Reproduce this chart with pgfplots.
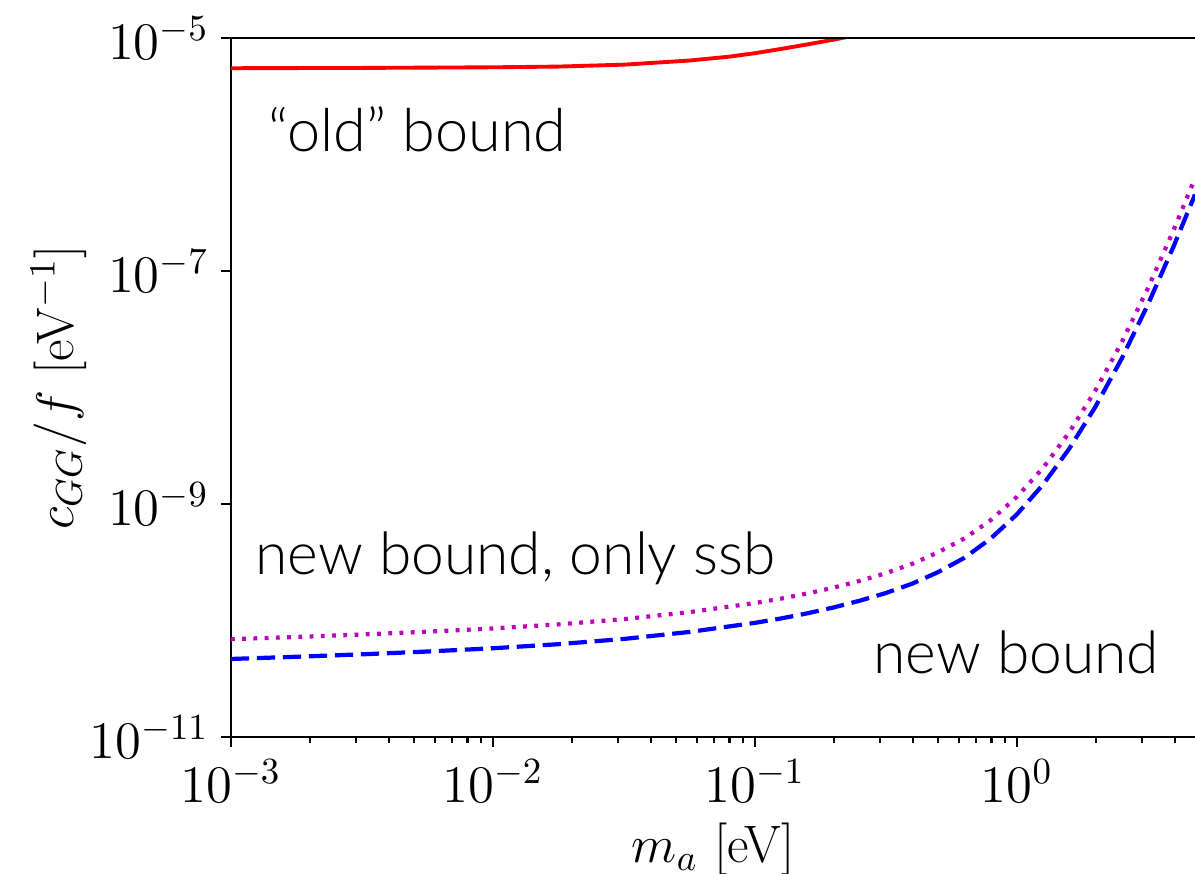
\RequirePackage{fix-cm}
\documentclass[border=0pt]{standalone}
\usepackage{fontspec}
\newfontfamily\helv{Lato}[UprightFont={* Light}]
\usepackage{pgfplots}
\pgfplotsset{compat=1.18}
\definecolor{mplmag}{rgb}{0.75,0,0.75}

\begin{document}
\begin{tikzpicture}
\begin{axis}[
  scale only axis, width=274.3pt, height=198.9pt,
  xmode=log, ymode=log,
  xmin=1e-3, xmax=4.786, ymin=1e-11, ymax=1e-5,
  axis lines*=left, axis line style={-, line width=0.7pt},
  tick align=outside, tick style={black, line width=0.6pt},
  major tick length=2.8pt, minor tick length=1.6pt,
  xtick={1e-3,1e-2,1e-1,1},
  minor xtick={2e-3,3e-3,4e-3,5e-3,6e-3,7e-3,8e-3,9e-3,
               2e-2,3e-2,4e-2,5e-2,6e-2,7e-2,8e-2,9e-2,
               0.2,0.3,0.4,0.5,0.6,0.7,0.8,0.9,2,3,4},
  ytick={1e-11,1e-9,1e-7,1e-5},
  tick label style={font=\fontsize{15}{18}\selectfont},
  label style={font=\fontsize{15}{18}\selectfont},
  xlabel={$m_a$ [eV]}, ylabel={$c_{GG}/f$ [eV$^{-1}$]},
  xlabel style={at={(rel axis cs:0.5,-0.18)}, anchor=base},
  ylabel style={at={(rel axis cs:-0.163,0.5)}, anchor=base},
  clip mode=individual,
]
% "old" bound
\addplot[red, line width=1.1pt] coordinates {
  (0.001,5.5e-6) (0.003162,5.53e-6) (0.01,5.6e-6) (0.01778,5.68e-6)
  (0.03162,5.9e-6) (0.05623,6.4e-6) (0.07943,6.9e-6) (0.1,7.4e-6)
  (0.1259,8.05e-6) (0.1585,8.8e-6) (0.1995,9.66e-6) (0.2512,1.072e-5)
  (0.3162,1.202e-5)
};
% new bound, only ssb
\addplot[mplmag, line width=1.2pt, dash pattern=on 1.1pt off 2.1pt] coordinates {
  (0.001,6.918e-11) (0.001778,7.228e-11) (0.003162,7.586e-11) (0.005623,8.017e-11)
  (0.01,8.551e-11) (0.01778,9.268e-11) (0.03162,1.028e-10) (0.05623,1.180e-10)
  (0.1,1.413e-10) (0.1259,1.542e-10) (0.1585,1.706e-10) (0.1995,1.914e-10)
  (0.2512,2.188e-10) (0.3162,2.547e-10) (0.3981,3.062e-10) (0.5012,3.855e-10)
  (0.631,5.070e-10) (0.7943,7.261e-10) (1,1.151e-9) (1.259,2.042e-9)
  (1.585,4.121e-9) (1.995,9.441e-9) (2.512,2.438e-8) (3.162,7.096e-8)
  (3.981,2.291e-7) (4.786,6.252e-7)
};
% new bound
\addplot[blue, line width=1.2pt, dash pattern=on 5.2pt off 2.2pt] coordinates {
  (0.001,4.677e-11) (0.001778,4.887e-11) (0.003162,5.129e-11) (0.005623,5.420e-11)
  (0.01,5.781e-11) (0.01778,6.266e-11) (0.03162,6.950e-11) (0.05623,7.980e-11)
  (0.1,9.550e-11) (0.1259,1.042e-10) (0.1585,1.153e-10) (0.1995,1.294e-10)
  (0.2512,1.479e-10) (0.3162,1.722e-10) (0.3981,2.070e-10) (0.5012,2.606e-10)
  (0.631,3.459e-10) (0.7943,5.047e-10) (1,8.147e-10) (1.259,1.469e-9)
  (1.585,2.985e-9) (1.995,6.839e-9) (2.512,1.766e-8) (3.162,5.140e-8)
  (3.981,1.660e-7) (4.786,4.529e-7)
};
\draw[line width=0.7pt] (rel axis cs:0,1) -- (rel axis cs:1,1);
\node[anchor=base west, inner sep=0pt, font=\helv\fontsize{16.9}{20}\selectfont]
  at (rel axis cs:0.0384,0.837) {“old” bound};
\node[anchor=base west, inner sep=0pt, font=\helv\fontsize{16.7}{20}\selectfont]
  at (rel axis cs:0.0249,0.233) {new bound, only ssb};
\node[anchor=base west, inner sep=0pt, font=\helv\fontsize{16.7}{20}\selectfont]
  at (rel axis cs:0.666,0.0916) {new bound};
\coordinate (sw) at (rel axis cs:0,0);
\coordinate (ne) at (rel axis cs:1,1);
\end{axis}
\pgfresetboundingbox
\path[use as bounding box] ([xshift=-65.7pt,yshift=-38.7pt]sw) rectangle ([yshift=10.8pt]ne);
\end{tikzpicture}
\end{document}
